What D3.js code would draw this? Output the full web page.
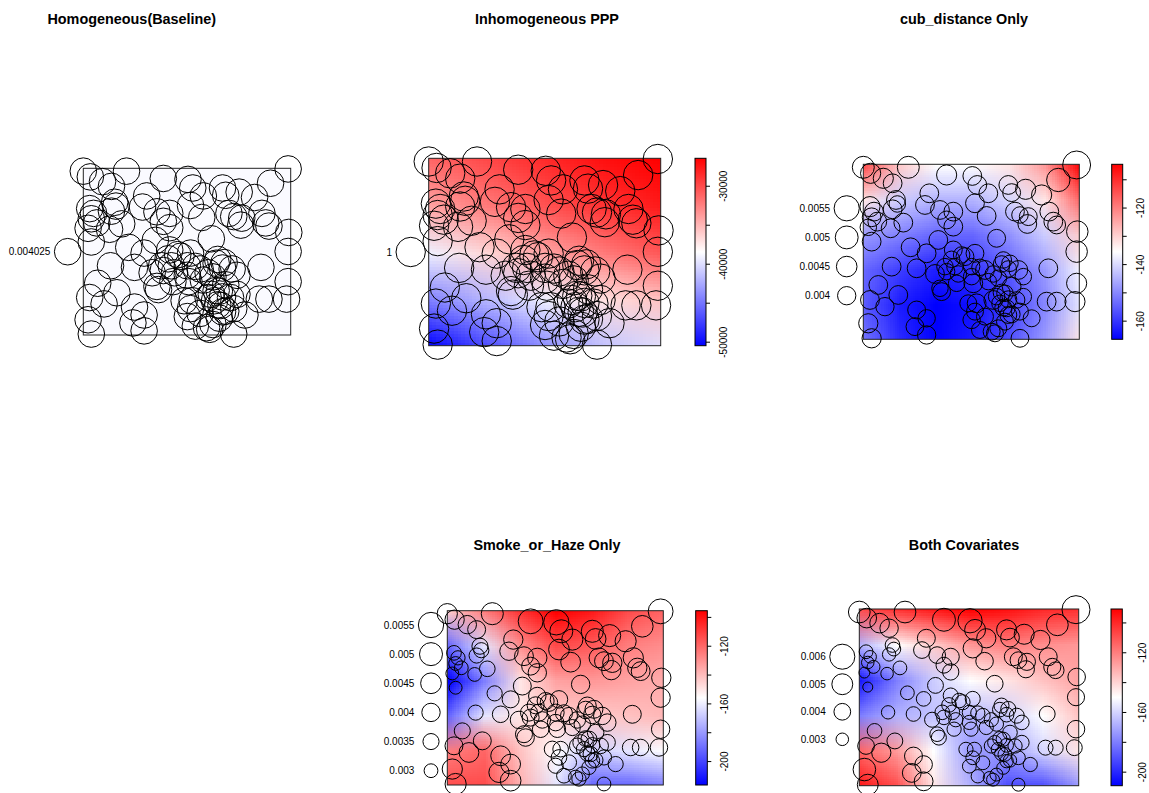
<!DOCTYPE html>
<html>
<head>
<meta charset="utf-8">
<script src="https://cdn.jsdelivr.net/npm/d3@7"></script>
<style>
  body { margin: 0; background: #fff; }
  svg  { display: block; font-family: "Liberation Sans", Arial, sans-serif; }
</style>
</head>
<body>
<div id="chart"></div>
<script>
// observation window units
var winW = 648, winH = 525;

// point locations (same pattern in every panel)
var ptX = [0,22,60,88,135,250,327,342,375,198,435,445,487,535,585,640,
           20,32,25,42,15,98,102,88,120,82,185,230,270,270,335,370,455,470,492,495,558,570,580,250,
           25,225,400,642,640,142,190,270,305,335,265,295,420,440,415,325,365,435,465,480,555,85,
           160,215,245,275,250,285,325,350,390,405,330,375,445,425,390,410,460,480,45,235,230,280,640,105,340,550,580,635,20,400,
           65,160,190,155,190,15,25,325,365,435,505,470,350,405,385,425,470,315,335,430,395,
           420,445,415,435];
var ptY = [516,498,483,468,516,493,490,463,438,438,463,440,450,433,478,523,
           398,383,366,353,336,418,406,390,350,333,403,388,383,338,408,370,383,373,346,368,383,353,343,358,
           293,298,303,323,263,276,258,268,248,258,240,253,238,228,226,218,208,211,208,188,213,218,
           213,196,218,218,203,196,188,216,196,183,168,173,158,138,118,108,118,128,163,143,153,168,168,133,108,113,113,113,118,128,
           98,88,63,38,13,48,3,58,68,73,63,83,28,33,23,53,3,108,83,93,18,
           95,75,140,120];

// marks shown as circle sizes
var markCub = [.0048,.0044,.0044,.0041,.0048,.0044,.0041,.0041,.0041,.0041,.0041,.0039,.0044,.0044,.0051,.0061,
               .0044,.0041,.0041,.0041,.0036,.0041,.0036,.0041,.0041,.0041,.0041,.0041,.0041,.0041,.0041,.0041,.0041,.0036,.0041,.0039,.0041,.0041,.0039,.0039,
               .0041,.0041,.0039,.0047,.0047,.0041,.0041,.0039,.0039,.0039,.0036,.0036,.0036,.0036,.0036,.0036,.0041,.0036,.0041,.0036,.0041,.0041,
               .0041,.0041,.0036,.0036,.0036,.0036,.0036,.0036,.0036,.0036,.0041,.0036,.0041,.0036,.0041,.0036,.0036,.0036,.0041,.0039,.0036,.0036,.0044,.0041,.0041,.0041,.0041,.0044,.0041,.0036,
               .0040,.0039,.0038,.0039,.0040,.0042,.0042,.0038,.0037,.0037,.0037,.0037,.0037,.0037,.0037,.0037,.0039,.0037,.0037,.0037,.0037,
               .0037,.0037,.0037,.0037];
var markSmoke = [.0044,.0042,.0040,.0039,.0048,.0054,.0055,.0050,.0046,.0042,.0048,.0045,.0048,.0046,.0047,.0054,
                 .0032,.0031,.0030,.0030,.0028,.0035,.0033,.0033,.0034,.0030,.0040,.0041,.0042,.0040,.0045,.0043,.0043,.0041,.0042,.0042,.0044,.0042,.0041,.0039,
                 .0028,.0039,.0040,.0042,.0042,.0033,.0037,.0038,.0038,.0038,.0037,.0037,.0039,.0039,.0038,.0037,.0037,.0038,.0038,.0038,.0039,.0033,
                 .0036,.0038,.0037,.0037,.0037,.0036,.0036,.0037,.0036,.0036,.0036,.0035,.0036,.0035,.0034,.0033,.0034,.0035,.0035,.0038,.0037,.0036,.0040,.0039,.0034,.0036,.0036,.0038,.0039,.0034,
                 .0043,.0043,.0043,.0044,.0045,.0044,.0046,.0033,.0033,.0032,.0033,.0033,.0032,.0031,.0031,.0031,.0030,.0035,.0034,.0033,.0031,
                 .0033,.0032,.0034,.0033];
var markBoth = [.0052,.0047,.0047,.0044,.0052,.0055,.0058,.0050,.0046,.0043,.0048,.0045,.0048,.0046,.0052,.0067,
                .0033,.0030,.0030,.0031,.0026,.0035,.0033,.0032,.0033,.0030,.0040,.0040,.0041,.0039,.0046,.0042,.0043,.0040,.0041,.0041,.0043,.0041,.0040,.0038,
                .0024,.0038,.0040,.0042,.0041,.0033,.0035,.0036,.0036,.0036,.0035,.0035,.0036,.0036,.0035,.0034,.0035,.0035,.0036,.0035,.0038,.0032,
                .0035,.0036,.0035,.0035,.0035,.0034,.0034,.0034,.0034,.0034,.0034,.0034,.0035,.0034,.0034,.0033,.0034,.0035,.0035,.0036,.0035,.0034,.0042,.0038,.0034,.0036,.0036,.0038,.0040,.0034,
                .0046,.0043,.0042,.0045,.0045,.0054,.0050,.0033,.0033,.0032,.0034,.0033,.0032,.0031,.0031,.0031,.0031,.0034,.0033,.0033,.0031,
                .0033,.0032,.0034,.0033];

// legend values
var legendBase  = [0.004025];
var legendPPP   = [1];
var legendCub   = [0.004, 0.0045, 0.005, 0.0055];
var legendSmoke = [0.003, 0.0035, 0.004, 0.0045, 0.005, 0.0055];
var legendBoth  = [0.003, 0.004, 0.005, 0.006];

// fitted log-intensity surfaces, rows top -> bottom
var fieldPPP = [
  [-31300,-29840,-28400,-27200,-26500],
  [-34170,-32250,-30330,-28880,-27680],
  [-39220,-36575,-34170,-32250,-30570],
  [-44500,-41860,-39220,-37060,-35610],
  [-50500,-46900,-43800,-41380,-39940]];
var fieldCub = [
  [-114.0,-129.5,-135.6,-135.6,-132.6,-123.3,-104.7],
  [-132.6,-141.8,-144.9,-144.9,-140.6,-132.6,-117.1],
  [-148.0,-151.1,-154.2,-154.2,-149.3,-141.8,-129.5],
  [-154.2,-159.2,-162.9,-160.4,-155.5,-148.0,-136.9],
  [-155.5,-163.5,-166.6,-164.7,-159.2,-150.5,-138.7],
  [-153.0,-161.6,-166.6,-163.5,-157.3,-148.0,-132.6]];
var fieldSmoke = [
  [-144.1,-125.9,-107.8,-95.7,-101.8,-113.8,-119.9],
  [-192.4,-162.2,-129.6,-113.8,-117.5,-125.9,-129.6],
  [-216.6,-186.4,-150.1,-134.4,-132.0,-134.4,-136.8],
  [-192.4,-162.2,-150.1,-144.1,-144.1,-141.6,-139.2],
  [-125.9,-119.9,-141.6,-156.2,-168.2,-162.2,-156.2],
  [-113.8,-113.8,-138.0,-162.2,-192.4,-192.4,-186.4]];
var fieldBoth = [
  [-108.8,-102.8,-96.9,-91.0,-94.6,-100.5,-102.8],
  [-168.0,-150.2,-138.4,-126.5,-120.6,-124.2,-126.5],
  [-203.5,-179.8,-162.0,-150.2,-144.3,-136.0,-128.9],
  [-179.8,-168.0,-164.4,-168.0,-162.0,-150.2,-136.0],
  [-114.7,-126.5,-150.2,-173.9,-173.9,-159.7,-144.3],
  [-96.9,-108.8,-144.3,-168.0,-191.6,-191.6,-173.9]];

// colour ribbon ranges and ticks
var rangePPP   = [-50514, -26480];
var rangeCub   = [-166.6, -104.7];
var rangeSmoke = [-216.6, -95.7];
var rangeBoth  = [-209.4, -91.0];
var ticksPPP   = [-50000,-45000,-40000,-35000,-30000];
var ticksCub   = [-160,-150,-140,-130,-120,-110];
var ticksSmoke = [-200,-180,-160,-140,-120,-100];
var ticksBoth  = [-200,-180,-160,-140,-120,-100];
var labelsPPP   = [-50000,-40000,-30000];
var labelsCub   = [-160,-140,-120];
var labelsSmoke = [-200,-160,-120];
var labelsBoth  = [-200,-160,-120];

var svg = d3.select("#chart").append("svg")
    .attr("width", 1149).attr("height", 793);
svg.append("rect").attr("width", 1149).attr("height", 793).attr("fill", "#fff");
var defs = svg.append("defs");

var panels = [
  {id:"p1", title:"Homogeneous(Baseline)", tx:131.8, ty:24, x0:83.3, y0:168.3, x1:290.7, y1:335,
   marks:null, radius:13.3, legend:legendBase, legX:67.7, legY:[251.7,251.7], fill:"#fafaff"},
  {id:"p2", title:"Inhomogeneous PPP", tx:547, ty:24, x0:428.7, y0:158.3, x1:660.7, y1:345.7,
   marks:null, radius:14.7, legend:legendPPP, legX:410.7, legY:[252,252],
   field:fieldPPP, range:rangePPP, ticks:ticksPPP, labels:labelsPPP, bar:[695,706], lab:17},
  {id:"p3", title:"cub_distance Only", tx:964, ty:24, x0:863.3, y0:164.3, x1:1079.3, y1:339.3,
   marks:markCub, k:2290, legend:legendCub, legX:846.7, legY:[295.7,208.3],
   field:fieldCub, range:rangeCub, ticks:ticksCub, labels:labelsCub, bar:[1111.7,1122.7], lab:18},
  {id:"p4", title:"Smoke_or_Haze Only", tx:547, ty:550, x0:447.3, y0:610.7, x1:663.3, y1:785,
   marks:markSmoke, k:2300, legend:legendSmoke, legX:431, legY:[770.7,625],
   field:fieldSmoke, range:rangeSmoke, ticks:ticksSmoke, labels:labelsSmoke, bar:[695.7,707.3], lab:17},
  {id:"p5", title:"Both Covariates", tx:964, ty:550, x0:859.3, y0:609, x1:1078.7, y1:785.7,
   marks:markBoth, k:2090, legend:legendBoth, legX:842.3, legY:[739.3,656.7],
   field:fieldBoth, range:rangeBoth, ticks:ticksBoth, labels:labelsBoth, bar:[1111,1122.3], lab:20}
];

function colourScale(range) {
  return d3.scaleLinear()
    .domain([range[0], (range[0] + range[1]) / 2, range[1]])
    .range(["#0000ff", "#ffffff", "#ff0000"])
    .clamp(true);
}

function fieldImage(grid, col) {
  var rows = grid.length, cols = grid[0].length;
  var cv = document.createElement("canvas");
  cv.width = cols; cv.height = rows;
  var ctx = cv.getContext("2d");
  var img = ctx.createImageData(cols, rows);
  for (var r = 0; r < rows; r++) {
    for (var c = 0; c < cols; c++) {
      var cc = d3.rgb(col(grid[r][c]));
      var k = 4 * (r * cols + c);
      img.data[k] = cc.r; img.data[k+1] = cc.g; img.data[k+2] = cc.b; img.data[k+3] = 255;
    }
  }
  ctx.putImageData(img, 0, 0);
  return cv.toDataURL();
}

function drawPanel(p) {
  var x = d3.scaleLinear().domain([0, winW]).range([p.x0, p.x1]);
  var y = d3.scaleLinear().domain([0, winH]).range([p.y1, p.y0]);
  var g = svg.append("g");

  g.append("text")
    .attr("x", p.tx).attr("y", p.ty)
    .attr("text-anchor", "middle")
    .attr("font-size", "14.4px").attr("font-weight", "bold")
    .text(p.title);

  if (p.field) {
    var col = colourScale(p.range);
    var rows = p.field.length, cols = p.field[0].length;
    var dx = (p.x1 - p.x0) / (cols - 1), dy = (p.y1 - p.y0) / (rows - 1);
    defs.append("clipPath").attr("id", "clip-" + p.id)
      .append("rect")
      .attr("x", p.x0).attr("y", p.y0)
      .attr("width", p.x1 - p.x0).attr("height", p.y1 - p.y0);
    g.append("image")
      .attr("href", fieldImage(p.field, col))
      .attr("x", p.x0 - dx / 2).attr("y", p.y0 - dy / 2)
      .attr("width", p.x1 - p.x0 + dx).attr("height", p.y1 - p.y0 + dy)
      .attr("preserveAspectRatio", "none")
      .attr("clip-path", "url(#clip-" + p.id + ")");

    // colour ribbon
    var grad = defs.append("linearGradient").attr("id", "grad-" + p.id)
      .attr("x1", 0).attr("y1", 1).attr("x2", 0).attr("y2", 0);
    [0, 0.5, 1].forEach(function(o) {
      grad.append("stop").attr("offset", o)
        .attr("stop-color", col(p.range[0] + o * (p.range[1] - p.range[0])));
    });
    g.append("rect")
      .attr("x", p.bar[0]).attr("y", p.y0)
      .attr("width", p.bar[1] - p.bar[0]).attr("height", p.y1 - p.y0)
      .attr("fill", "url(#grad-" + p.id + ")")
      .attr("stroke", "#000").attr("stroke-width", 1);

    var barScale = d3.scaleLinear().domain(p.range).range([p.y1, p.y0]);
    var ax = g.append("g")
      .attr("transform", "translate(" + p.bar[1] + ",0)")
      .call(d3.axisRight(barScale).tickValues(p.ticks).tickSize(4)
        .tickFormat(function(d) { return p.labels.indexOf(d) >= 0 ? String(d) : ""; }));
    ax.select(".domain").remove();
    ax.selectAll("line").attr("stroke", "#000");
    ax.selectAll("text")
      .attr("transform", "rotate(-90)")
      .attr("x", 0).attr("y", p.lab).attr("dy", "0.35em")
      .attr("text-anchor", "middle")
      .attr("font-size", "10px").attr("font-family", "Liberation Sans, Arial, sans-serif")
      .attr("fill", "#000");
  }

  g.append("rect")
    .attr("x", p.x0).attr("y", p.y0)
    .attr("width", p.x1 - p.x0).attr("height", p.y1 - p.y0)
    .attr("fill", p.fill || "none").attr("stroke", "#222").attr("stroke-width", 1);

  var rad = function(i) { return p.marks ? p.marks[i] * p.k : p.radius; };
  g.selectAll("circle.pt").data(ptX).enter().append("circle")
    .attr("class", "pt")
    .attr("cx", function(d) { return x(d); })
    .attr("cy", function(d, i) { return y(ptY[i]); })
    .attr("r", function(d, i) { return rad(i); })
    .attr("fill", "none").attr("stroke", "#000").attr("stroke-width", 1);

  // mark legend
  var lr = function(v) { return p.marks ? v * p.k : p.radius; };
  var maxR = d3.max(p.legend, lr);
  var ly = p.legend.length > 1
    ? d3.scaleLinear().domain(d3.extent(p.legend)).range(p.legY)
    : function() { return p.legY[0]; };
  var lg = g.selectAll("g.leg").data(p.legend).enter().append("g").attr("class", "leg");
  lg.append("circle")
    .attr("cx", p.legX).attr("cy", function(d) { return ly(d); })
    .attr("r", lr)
    .attr("fill", "none").attr("stroke", "#000").attr("stroke-width", 1);
  lg.append("text")
    .attr("x", p.legX - maxR - 4).attr("y", function(d) { return ly(d); })
    .attr("dy", "0.35em").attr("text-anchor", "end")
    .attr("font-size", "10px").attr("fill", "#000")
    .text(function(d) { return String(d); });
}

panels.forEach(drawPanel);
</script>
</body>
</html>
